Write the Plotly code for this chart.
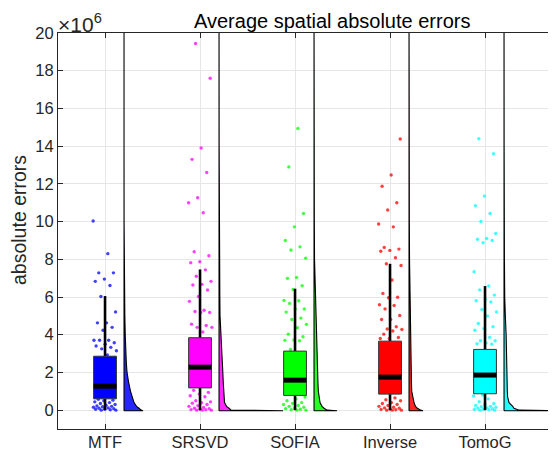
import plotly.graph_objects as go

# ---------------- data (values in units of 1e6) ----------------
categories = ["MTF", "SRSVD", "SOFIA", "Inverse", "TomoG"]
colors = ["#0000ff", "#ff00ff", "#00ff00", "#ff0000", "#00ffff"]

box_q1 = [0.60, 1.18, 0.78, 0.85, 0.87]
box_median = [1.27, 2.28, 1.59, 1.75, 1.86]
box_q3 = [2.86, 3.84, 3.13, 3.66, 3.22]
whisker_low = [0.0, 0.0, 0.0, 0.0, 0.0]
whisker_high = [6.05, 7.46, 6.44, 7.76, 6.58]

points_mtf = [10.03, 8.3, 7.28, 7.28, 6.95, 6.83, 6.61, 6.03, 5.21, 4.63, 4.63,
              4.39, 4.24, 3.71, 3.71, 3.71, 3.57, 3.5, 3.4, 3.33, 3.25, 3.15, 2.93,
              0.58, 0.53, 0.5, 0.44, 0.4, 0.35, 0.3, 0.26, 0.22, 0.2, 0.18, 0.15,
              0.12, 0.1, 0.08, 0.05, 0.05, 0.02, 0.0, 0.0]
points_srsvd = [19.44, 17.6, 13.9, 13.3, 12.6, 11.26, 11.0, 10.47, 8.4, 8.19, 7.87,
                7.82, 7.44, 7.1, 6.83, 6.67, 6.64, 6.37, 6.03, 5.77, 5.3, 5.23, 5.18,
                5.18, 4.56, 4.49, 4.39, 4.39, 4.14,
                1.05, 0.94, 0.85, 0.76, 0.71, 0.5, 0.44, 0.39, 0.37, 0.3, 0.23, 0.2,
                0.14, 0.1, 0.08, 0.05, 0.03, 0.02, 0.0, 0.0, 0.0]
points_sofia = [14.94, 12.9, 10.43, 9.72, 9.0, 8.66, 8.49, 8.06, 7.04, 6.99, 6.6,
                6.4, 5.82, 5.8, 5.66, 5.36, 5.36, 5.2, 4.88, 4.81, 4.55, 4.37, 4.03,
                3.89, 3.72, 3.7, 3.68, 3.22,
                0.7, 0.6, 0.5, 0.4, 0.36, 0.3, 0.25, 0.2, 0.15, 0.1, 0.08, 0.05,
                0.02, 0.0, 0.0]
points_inverse = [14.38, 12.47, 11.87, 11.0, 10.61, 9.87, 9.72, 8.63, 8.54, 8.47,
                  8.43, 8.08, 7.76, 7.67, 6.9, 6.19, 5.99, 5.96, 5.59, 5.55, 5.37,
                  5.02, 4.81, 4.81, 4.42, 4.3, 4.28, 4.2, 4.03, 3.85, 3.8, 3.8,
                  0.65, 0.55, 0.5, 0.4, 0.35, 0.3, 0.25, 0.2, 0.15, 0.12, 0.1, 0.06,
                  0.04, 0.02, 0.0, 0.0, 0.0]
points_tomog = [14.39, 13.6, 11.35, 10.84, 10.43, 10.0, 9.37, 9.1, 9.06, 9.0, 8.88,
                7.34, 6.58, 6.38, 6.1, 5.9, 5.8, 5.74, 5.34, 5.21, 4.99, 4.6, 4.42,
                4.33, 4.24, 3.86, 3.68, 3.68, 3.56, 3.52, 3.5,
                0.8, 0.75, 0.6, 0.45, 0.35, 0.3, 0.25, 0.2, 0.18, 0.15, 0.12, 0.1,
                0.07, 0.05, 0.04, 0.02, 0.0, 0.0]

# density profiles (relative width)
density_y = [0, 0.1, 0.2, 0.4, 0.7, 1.0, 1.5, 2.0, 2.5, 3.0, 4.0, 5.0, 6.0, 8.0, 10.0, 14.0, 21.0]
density_mtf = [17, 15, 12.5, 10, 8, 6.5, 4.5, 3.0, 2.3, 1.8, 1.2, 0.8, 0.5, 0.2, 0.05, 0, 0]
density_srsvd = [12, 10, 7.5, 5.5, 5, 4.7, 4.2, 3.8, 3.4, 2.8, 1.5, 1.0, 0.8, 0.5, 0.3, 0.1, 0]
density_sofia = [13, 10, 8, 6, 5, 4.3, 3.9, 3.6, 3.3, 3.0, 2.4, 1.6, 1.0, 0.5, 0.3, 0.1, 0]
density_inverse = [11.7, 8.3, 6.5, 5, 3.5, 2.7, 2.4, 2.2, 2.0, 1.8, 1.4, 1.0, 0.8, 0.5, 0.3, 0.1, 0]
density_tomog = [15, 10, 8.7, 5, 3.6, 3.3, 3.2, 3.1, 3.0, 2.8, 2.1, 1.3, 0.7, 0.4, 0.2, 0.1, 0]
density_peak_at_zero = [19, 64, 23, 14, 60]

y_ticks = list(range(0, 21, 2))

# ---------------- build ----------------
points = [points_mtf, points_srsvd, points_sofia, points_inverse, points_tomog]
densities = [density_mtf, density_srsvd, density_sofia, density_inverse, density_tomog]

def rgba(hexc, a):
    h = hexc.lstrip("#")
    return "rgba(%d,%d,%d,%.2f)" % (int(h[0:2], 16), int(h[2:4], 16), int(h[4:6], 16), a)

DENS_SCALE = 1 / 95.0
VIOLIN_OFFSET = 0.2
BOX_HALF = 0.12
JITTER = 0.25

fig = go.Figure()
for i, cat in enumerate(categories):
    x0 = i + 1
    col = colors[i]
    xb = x0 + VIOLIN_OFFSET
    # half violin
    vx = [xb, xb + density_peak_at_zero[i] * DENS_SCALE]
    vy = [-0.03, -0.03]
    for yy, ww in zip(density_y, densities[i]):
        vx.append(xb + ww * DENS_SCALE)
        vy.append(yy)
    vx += [xb, xb]
    vy += [density_y[-1], -0.03]
    fig.add_trace(go.Scatter(x=vx, y=vy, mode="lines", fill="toself",
                             fillcolor=rgba(col, 0.85),
                             line=dict(color="black", width=1.1),
                             hoverinfo="skip"))
    # jittered raw points
    pts = points[i]
    jx = [x0 + (((k * 0.6180339887 + 0.31 * i) % 1.0) - 0.5) * JITTER for k in range(len(pts))]
    fig.add_trace(go.Scatter(x=jx, y=pts, mode="markers",
                             marker=dict(color=col, size=3.4, opacity=0.75,
                                         line=dict(width=0)),
                             hoverinfo="skip"))
    # whiskers
    fig.add_trace(go.Scatter(x=[x0, x0, None, x0, x0],
                             y=[box_q3[i], whisker_high[i], None, box_q1[i], whisker_low[i]],
                             mode="lines", line=dict(color="black", width=2.6),
                             hoverinfo="skip"))
    # box
    fig.add_trace(go.Scatter(x=[x0 - BOX_HALF, x0 + BOX_HALF, x0 + BOX_HALF, x0 - BOX_HALF, x0 - BOX_HALF],
                             y=[box_q1[i], box_q1[i], box_q3[i], box_q3[i], box_q1[i]],
                             mode="lines", fill="toself", fillcolor=col,
                             line=dict(color="#333333", width=1),
                             hoverinfo="skip"))
    # median
    fig.add_trace(go.Scatter(x=[x0 - BOX_HALF, x0 + BOX_HALF],
                             y=[box_median[i], box_median[i]],
                             mode="lines", line=dict(color="black", width=5),
                             hoverinfo="skip"))

FONT = "Liberation Sans, Arial, Helvetica, sans-serif"
TXT = "#262626"
axis_common = dict(showgrid=True, gridcolor="#e6e6e6", gridwidth=1,
                   ticks="inside", ticklen=5, tickcolor=TXT, tickwidth=1,
                   showline=True, linecolor=TXT, linewidth=1, mirror="ticks",
                   zeroline=False, tickfont=dict(family=FONT, size=16.5, color=TXT))

# the page body adds an 8px offset, so the figure is 8px smaller than the window
fig.update_layout(
    width=548, height=449,
    margin=dict(l=50, r=0, t=25, b=28),
    plot_bgcolor="white", paper_bgcolor="white",
    showlegend=False,
    xaxis=dict(range=[0.505, 5.747], tickvals=[1, 2, 3, 4, 5], ticktext=categories,
               ticklabelstandoff=-2, **axis_common),
    yaxis=dict(range=[-1, 20], tickvals=y_ticks, ticktext=[str(t) for t in y_ticks],
               **axis_common),
    annotations=[
        dict(text="Average spatial absolute errors", xref="paper", yref="paper",
             x=(332 - 58) / 498, y=1.0, yshift=-1, xanchor="center", yanchor="bottom",
             showarrow=False, font=dict(family=FONT, size=20, color="black")),
        dict(text="×10<sup>6</sup>", xref="paper", yref="paper", x=-0.004, y=1.0,
             xanchor="left", yanchor="bottom", showarrow=False, yshift=-5,
             font=dict(family=FONT, size=21, color=TXT)),
        dict(text="absolute errors", xref="paper", yref="paper",
             x=(19 - 58) / 498, y=(429 - 220) / 396, xanchor="center", yanchor="middle",
             textangle=-90, showarrow=False, font=dict(family=FONT, size=19.5, color=TXT)),
    ],
)

fig.write_html("out.html")
